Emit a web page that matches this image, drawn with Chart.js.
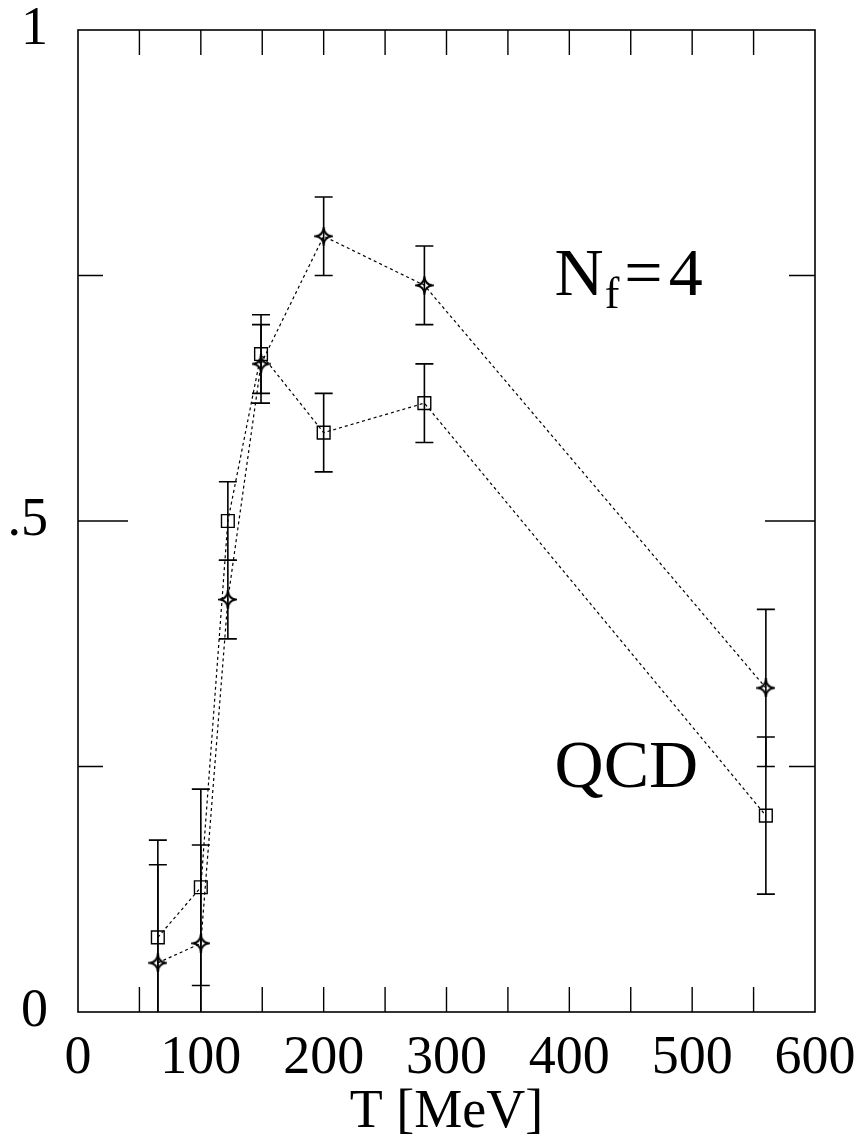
<!DOCTYPE html>
<html>
<head>
<meta charset="utf-8">
<script src="https://cdn.jsdelivr.net/npm/chart.js@4/dist/chart.umd.min.js"></script>
<style>
  html, body { margin: 0; padding: 0; background: #fff; }
  #wrap { width: 866px; height: 1148px; }
</style>
</head>
<body>
<div id="wrap"><canvas id="chart" width="866" height="1148"></canvas></div>
<script>
// Temperatures (MeV) for both series
const temps = [65, 100, 122, 149, 200, 282, 560];

// Square series and its errors
const squareVals = [0.076, 0.127, 0.50, 0.67, 0.59, 0.62, 0.20];
const squareErrs = [0.099, 0.10, 0.04, 0.04, 0.04, 0.04, 0.08];

// Star series and its errors
const starVals = [0.05, 0.07, 0.42, 0.66, 0.79, 0.74, 0.33];
const starErrs = [0.10, 0.10, 0.04, 0.04, 0.04, 0.04, 0.08];

// Axis labels / ticks
const yTickLabels = { 0: '0', 0.5: '.5', 1: '1' };
const xMinorTicks = [50, 100, 150, 200, 250, 300, 350, 400, 450, 500, 550];
const yMajorTicks = [0.5];
const yMinorTicks = [0.25, 0.75];

const SERIF = '"Liberation Serif", "DejaVu Serif", serif';

// Four-pointed concave star marker
function makeStar(size) {
    const c = document.createElement('canvas');
    c.width = c.height = size;
    const g = c.getContext('2d');
    const m = size / 2, r = size / 2 - 1.5, k = r * 0.12;
    g.beginPath();
    g.moveTo(m, m - r);
    g.quadraticCurveTo(m + k, m - k, m + r, m);
    g.quadraticCurveTo(m + k, m + k, m, m + r);
    g.quadraticCurveTo(m - k, m + k, m - r, m);
    g.quadraticCurveTo(m - k, m - k, m, m - r);
    g.closePath();
    g.lineWidth = 2;
    g.strokeStyle = '#000';
    g.stroke();
    return c;
}

function toPoints(xs, ys) {
    return xs.map((x, i) => ({ x: x, y: ys[i] }));
}

// Error bars, frame, inward ticks and text labels
const decorations = {
    id: 'decorations',
    afterDatasetsDraw(chart) {
        const ctx = chart.ctx;
        const area = chart.chartArea;
        const xs = chart.scales.x, ys = chart.scales.y;

        // error bars (clipped to plot area)
        ctx.save();
        ctx.beginPath();
        ctx.rect(area.left, area.top, area.right - area.left, area.bottom - area.top);
        ctx.clip();
        ctx.strokeStyle = '#000';
        ctx.lineWidth = 1.6;
        chart.data.datasets.forEach(ds => {
            ds.data.forEach((p, i) => {
                const e = ds.errors[i];
                const px = xs.getPixelForValue(p.x);
                const y1 = ys.getPixelForValue(p.y + e);
                const y2 = ys.getPixelForValue(p.y - e);
                ctx.beginPath();
                ctx.moveTo(px, y1); ctx.lineTo(px, y2);
                ctx.moveTo(px - 9, y1); ctx.lineTo(px + 9, y1);
                ctx.moveTo(px - 9, y2); ctx.lineTo(px + 9, y2);
                ctx.stroke();
            });
        });
        ctx.restore();

        // frame
        ctx.save();
        ctx.strokeStyle = '#000';
        ctx.lineWidth = 1.6;
        ctx.strokeRect(area.left, area.top, area.right - area.left, area.bottom - area.top);

        // inward ticks
        ctx.lineWidth = 1.4;
        ctx.beginPath();
        xMinorTicks.forEach(v => {
            const px = xs.getPixelForValue(v);
            ctx.moveTo(px, area.bottom); ctx.lineTo(px, area.bottom - 25);
            ctx.moveTo(px, area.top); ctx.lineTo(px, area.top + 25);
        });
        yMajorTicks.forEach(v => {
            const py = ys.getPixelForValue(v);
            ctx.moveTo(area.left, py); ctx.lineTo(area.left + 50, py);
            ctx.moveTo(area.right, py); ctx.lineTo(area.right - 50, py);
        });
        yMinorTicks.forEach(v => {
            const py = ys.getPixelForValue(v);
            ctx.moveTo(area.left, py); ctx.lineTo(area.left + 25, py);
            ctx.moveTo(area.right, py); ctx.lineTo(area.right - 26, py);
        });
        ctx.stroke();

        // labels N_f=4 and QCD
        ctx.fillStyle = '#000';
        ctx.textBaseline = 'alphabetic';
        ctx.textAlign = 'left';
        let x0 = xs.getPixelForValue(388);
        const yN = ys.getPixelForValue(0.73);
        ctx.font = '68px ' + SERIF;
        ctx.fillText('N', x0, yN);
        x0 += ctx.measureText('N').width + 1;
        ctx.font = '44px ' + SERIF;
        ctx.fillText('f', x0, yN + 13);
        x0 += ctx.measureText('f').width + 5;
        ctx.font = '68px ' + SERIF;
        ctx.fillText('=', x0, yN);
        x0 += ctx.measureText('=').width + 6;
        ctx.fillText('4', x0, yN);

        ctx.fillText('QCD', xs.getPixelForValue(388), ys.getPixelForValue(0.229));
        ctx.restore();
    }
};

function createChart() {
    const ctx = document.getElementById('chart').getContext('2d');
    new Chart(ctx, {
        type: 'line',
        data: {
            datasets: [{
                data: toPoints(temps, squareVals),
                errors: squareErrs,
                borderColor: '#000',
                borderWidth: 1.2,
                borderDash: [3, 3],
                pointStyle: 'rect',
                pointRadius: 9,
                pointBorderWidth: 1.4,
                pointBorderColor: '#000',
                pointBackgroundColor: 'rgba(0,0,0,0)',
                fill: false
            }, {
                data: toPoints(temps, starVals),
                errors: starErrs,
                borderColor: '#000',
                borderWidth: 1.2,
                borderDash: [3, 3],
                pointStyle: makeStar(19),
                pointRadius: 9,
                fill: false
            }]
        },
        options: {
            responsive: false,
            animation: false,
            layout: { padding: { top: 30, right: 51, left: 0, bottom: 0 } },
            plugins: { legend: { display: false }, tooltip: { enabled: false } },
            scales: {
                x: {
                    type: 'linear',
                    min: 0, max: 600,
                    grid: { display: false, drawTicks: false },
                    border: { display: false },
                    ticks: {
                        stepSize: 100,
                        autoSkip: false,
                        maxRotation: 0,
                        padding: 14,
                        color: '#000',
                        font: { family: SERIF, size: 54 }
                    },
                    title: {
                        display: true,
                        text: 'T [MeV]',
                        color: '#000',
                        padding: { top: 0, bottom: 3 },
                        font: { family: SERIF, size: 54 }
                    },
                    afterFit(scale) {
                        scale.height = 136;
                        scale.paddingLeft = 0;
                        scale.paddingRight = 0;
                    }
                },
                y: {
                    min: 0, max: 1,
                    grid: { display: false, drawTicks: false },
                    border: { display: false },
                    ticks: {
                        stepSize: 0.5,
                        padding: 30,
                        color: '#000',
                        font: { family: SERIF, size: 54 },
                        callback: v => yTickLabels[v]
                    },
                    afterFit(scale) {
                        scale.width = 78;
                        scale.paddingTop = 0;
                        scale.paddingBottom = 0;
                    }
                }
            }
        },
        plugins: [decorations]
    });
}

document.addEventListener('DOMContentLoaded', createChart);
</script>
</body>
</html>
